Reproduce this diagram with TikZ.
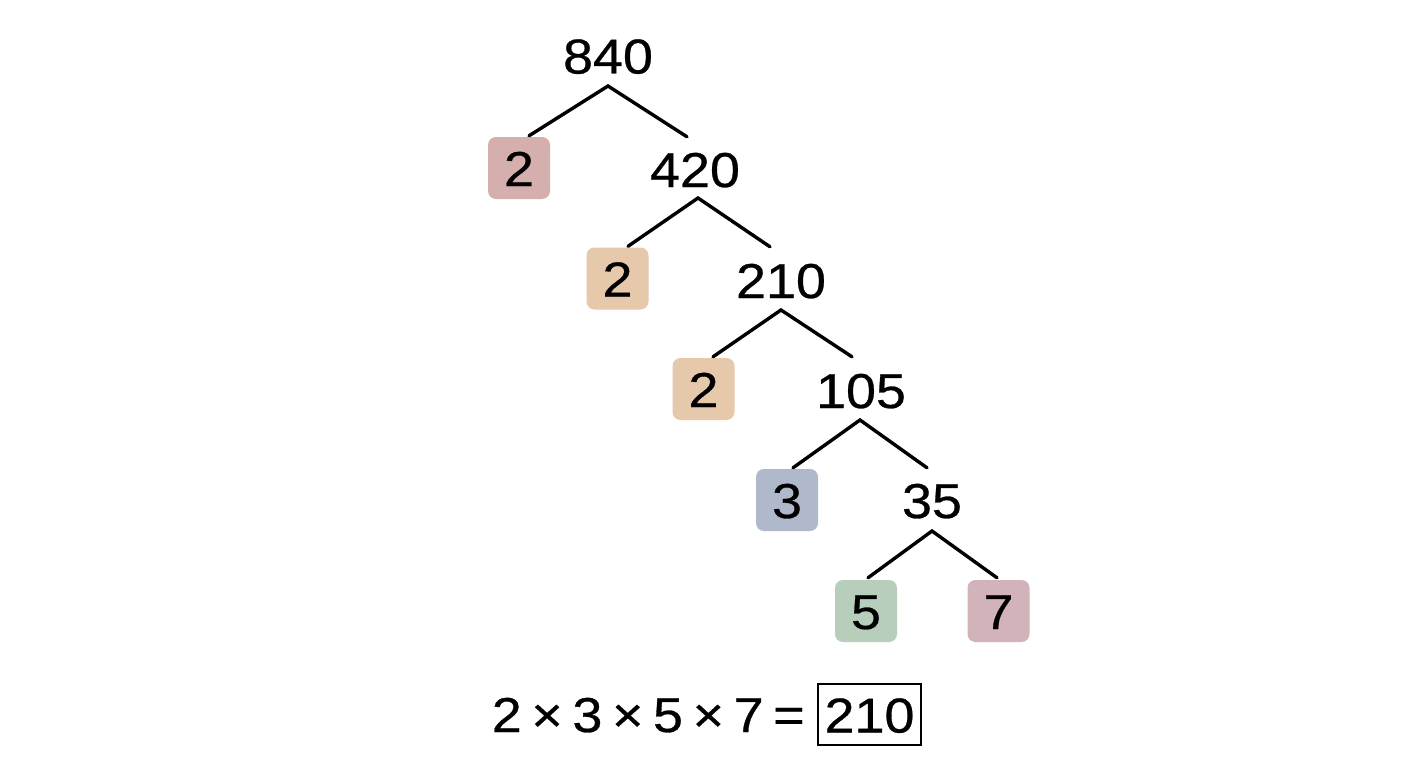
\documentclass[tikz,border=0pt]{standalone}
\usepackage{fontspec}
\setmainfont{Liberation Sans}[FakeStretch=1.1,FakeBold=0.6]
\definecolor{cRed}{HTML}{D4AFAD}
\definecolor{cTan}{HTML}{E6C8AA}
\definecolor{cBlue}{HTML}{B0B8CC}
\definecolor{cGreen}{HTML}{B6CEBA}
\definecolor{cMauve}{HTML}{D2B3BA}
\newcommand{\gp}{\hspace{9.6pt}}
\tikzset{
  num/.style={inner sep=0pt, text height=36pt, text depth=0pt, font=\fontsize{49}{55}\selectfont},
  fbox/.style={num, minimum width=62pt, minimum height=62pt, rounded corners=8pt, fill=#1},
  edge/.style={draw=black, line width=3.4pt, line cap=round, line join=miter}
}
\begin{document}
\begin{tikzpicture}[x=1pt,y=-1pt]
\fill[white] (0,0) rectangle (1408,768);
\useasboundingbox (0,0) rectangle (1408,768);
% numbers
\node[num] (n840) at (608,55.5) {840};
\node[num] (n420) at (695,169) {420};
\node[num] (n210) at (781,280) {210};
\node[num] (n105) at (861,390) {105};
\node[num] (n35) at (932,500) {35};
% prime boxes
\node[fbox=cRed] (p1) at (519,168) {2};
\node[fbox=cTan] (p2) at (617.5,278.5) {2};
\node[fbox=cTan] (p3) at (703.5,389) {2};
\node[fbox=cBlue] (p4) at (787,500) {3};
\node[fbox=cGreen] (p5) at (866,611) {5};
\node[fbox=cMauve] (p6) at (998.5,611) {7};
% apexes
\coordinate (a840) at (608,86);
\coordinate (a420) at (698,198);
\coordinate (a210) at (781,310);
\coordinate (a105) at (860,420);
\coordinate (a35) at (932,531);
% connectors
\draw[edge] ([xshift=10pt,yshift=1pt]p1.north) -- (a840) -- ([xshift=-8pt,yshift=14pt]n420.north);
\draw[edge] ([xshift=10.5pt,yshift=1pt]p2.north) -- (a420) -- ([xshift=-11pt,yshift=15pt]n210.north);
\draw[edge] ([xshift=9.5pt,yshift=1pt]p3.north) -- (a210) -- ([xshift=-9pt,yshift=15pt]n105.north);
\draw[edge] ([xshift=6pt,yshift=1pt]p4.north) -- (a105) -- ([xshift=-5pt,yshift=14pt]n35.north);
\draw[edge] ([xshift=2pt,yshift=2pt]p5.north) -- (a35) -- ([xshift=-1.5pt,yshift=2pt]p6.north);
% equation
\node[num, anchor=east] (eq) at (805,714) {2\gp×\gp3\gp×\gp5\gp×\gp7\gp=};
\node[num, draw=black, line width=2.5pt, minimum width=103pt, minimum height=61pt] (res) at (869.5,714.5) {210};
\end{tikzpicture}
\end{document}
